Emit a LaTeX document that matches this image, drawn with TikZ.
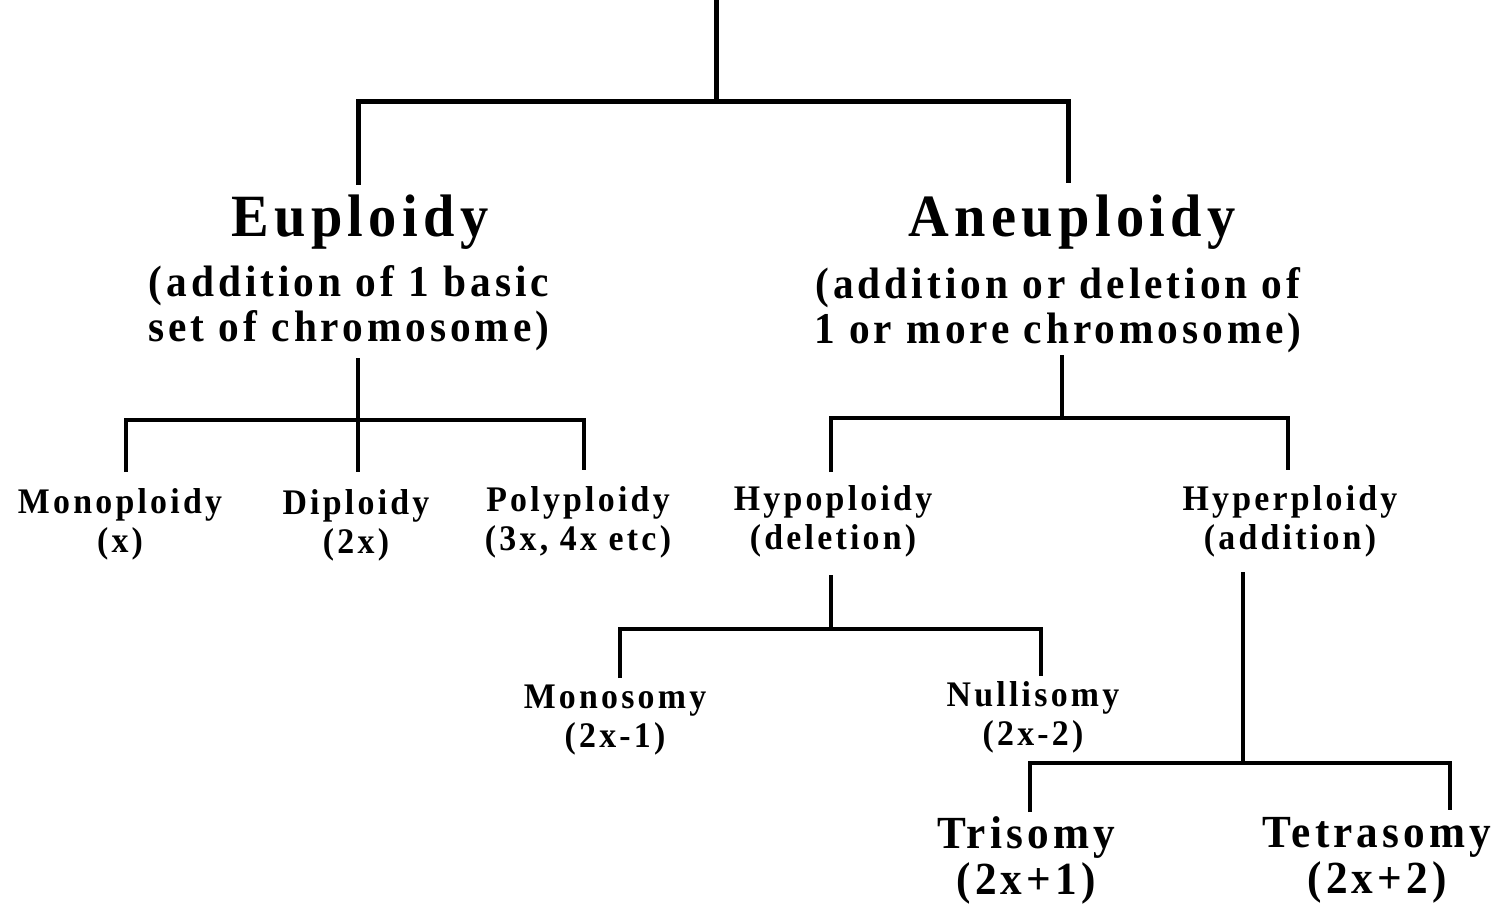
\documentclass[tikz,border=0pt]{standalone}
\usepackage{fontspec}
\setmainfont{Liberation Serif}[FakeStretch=0.94,LetterSpace=9]
\begin{document}
\begin{tikzpicture}[x=1pt,y=-1pt,
  lbl/.style={align=center,inner sep=0pt,text=black},
  big/.style={lbl,font=\fontsize{60}{66}\selectfont\bfseries},
  sub/.style={lbl,font=\fontsize{44}{45}\selectfont\bfseries},
  mid/.style={lbl,font=\fontsize{36}{39}\selectfont\bfseries},
  lrg/.style={lbl,font=\fontsize{46}{46}\selectfont\bfseries},
  w1/.style={line width=5pt,line join=miter},
  w2/.style={line width=4.2pt},
  w3/.style={line width=3.2pt}]
\useasboundingbox (0,0) rectangle (1499,904);
% labels
\node[big] (eu) at (360,222) {Euploidy};
\node[sub] (eusub) at (349,308) {(addition of 1 basic\\set of chromosome)};
\node[big] (an) at (1072,222) {Aneuploidy};
\node[sub] (ansub) at (1058,310) {(addition or deletion of\\1 or more chromosome)};
\node[mid] (mono) at (120,524) {Monoploidy\\(x)};
\node[mid] (di) at (356,525) {Diploidy\\(2x)};
\node[mid] (poly) at (578,522) {Polyploidy\\(3x, 4x etc)};
\node[mid] (hypo) at (833,521) {Hypoploidy\\(deletion)};
\node[mid] (hyper) at (1290,521) {Hyperploidy\\(addition)};
\node[mid] (monos) at (615,720) {Monosomy\\(2x-1)};
\node[mid] (nulli) at (1033,717) {Nullisomy\\(2x-2)};
\node[lrg] (tri) at (1026,860) {Trisomy\\(2x+1)};
\node[lrg] (tetra) at (1377,860) {Tetrasomy\\(2x+2)};
% junction coordinates
\coordinate (t0) at (716,0);
\coordinate (t1) at (716,102);
\coordinate (tl) at (358,102);
\coordinate (tr) at (1068,102);
\coordinate (eut) at (358,185);
\coordinate (ant) at (1068,183);
\coordinate (eub) at (358,358);
\coordinate (euj) at (358,420);
\coordinate (monot) at (126,472);
\coordinate (dit) at (358,472);
\coordinate (polyt) at (584,470);
\coordinate (anb) at (1062,355);
\coordinate (anj) at (1062,418);
\coordinate (hypot) at (831,472);
\coordinate (hypert) at (1288,470);
\coordinate (hypob) at (831,575);
\coordinate (hypoj) at (831,629);
\coordinate (monost) at (620,678);
\coordinate (nullit) at (1041,676);
\coordinate (hyperb) at (1243,572);
\coordinate (hyperj) at (1243,763);
\coordinate (trit) at (1030,812);
\coordinate (tetrat) at (1450,810);
% connectors
\draw[w1] (t0) -- (t1);
\draw[w1] (eut) -- (tl) -- (tr) -- (ant);
\draw[w2] (eub) -- (dit);
\draw[w2] (monot) |- (euj) -| (polyt);
\draw[w2] (anb) -- (anj);
\draw[w2] (hypot) |- (anj) -| (hypert);
\draw[w3] (hypob) -- (hypoj);
\draw[w3] (monost) |- (hypoj) -| (nullit);
\draw[w3] (hyperb) -- (hyperj);
\draw[w3] (trit) |- (hyperj) -| (tetrat);
\end{tikzpicture}
\end{document}
